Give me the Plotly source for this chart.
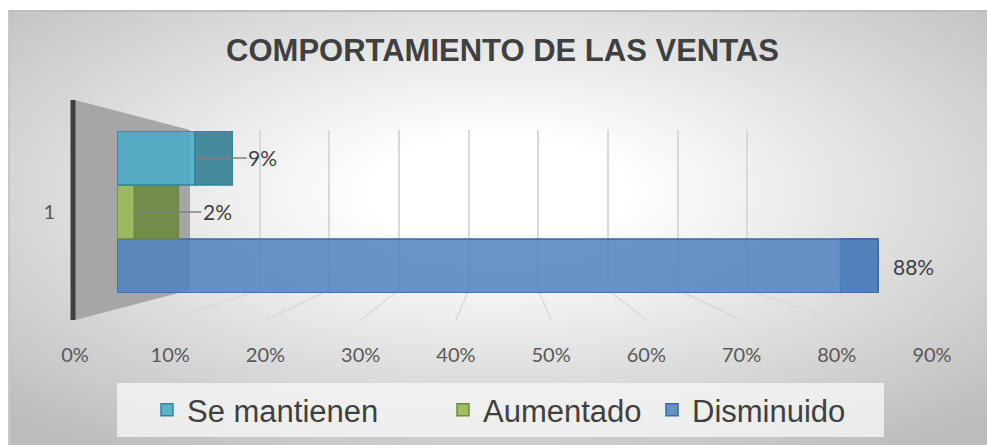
import base64
import plotly.graph_objects as go

# ---------------- data ----------------
categories = ["1"]
series_names = ["Disminuido", "Aumentado", "Se mantienen"]   # bottom -> top
series_values = [0.88, 0.02, 0.09]
value_labels = ["88%", "2%", "9%"]
tick_values = [0.0, 0.1, 0.2, 0.3, 0.4, 0.5, 0.6, 0.7, 0.8, 0.9]
tick_labels = ["0%", "10%", "20%", "30%", "40%", "50%", "60%", "70%", "80%", "90%"]
title_text = "COMPORTAMIENTO DE LAS VENTAS"

# ---------------- styles ----------------
face_colors = ["rgba(79,129,189,0.85)", "rgba(155,187,89,0.92)", "rgba(75,172,198,0.9)"]
side_colors = ["rgba(70,115,175,0.85)", "rgba(111,138,69,0.95)", "rgba(55,130,150,0.92)"]
edge_colors = ["#3a6aa5", "#71893f", "#31859c"]
label_offsets = [(35, False), (83, True), (68, True)]   # (px shift, leader line)
legend_ids = ["legend3", "legend2", "legend"]
legend_left_px = [652, 443, 147]

W, H = 987, 445
XMAX = 0.9


def fx(px):
    return px / W


def fy(py):
    return 1 - py / H


# pseudo-3D geometry (pixels)
FRONT_X = (75, 932)       # front plane 0% .. 90%
BACK_X = (190, 817)       # back wall 0% .. 90%
FRONT_Y = (100, 320)
BACK_Y = (130, 290)
BARF_X = (117, 895.5)     # bar front face 0% .. 90%
BARB_X = (163, 856)       # bar back face 0% .. 90%
BAR_Y = (131, 293)
LEGEND_BOX = (117, 383, 884, 437)


def px_of(rng, v):
    return rng[0] + (rng[1] - rng[0]) * v / XMAX


fig = go.Figure()

fig.add_trace(go.Scatter(x=[None], y=[None], xaxis="x", yaxis="y", showlegend=False,
                         hoverinfo="skip"))
fig.add_trace(go.Scatter(x=[None], y=[None], xaxis="x2", yaxis="y2", showlegend=False,
                         hoverinfo="skip"))

n = len(series_names)
annotations = []
for k, (name, v) in enumerate(zip(series_names, series_values)):
    off = -0.5 + k / n
    wid = 1.0 / n
    delta = (px_of(BARB_X, v) - px_of(BARF_X, v)) / (BARF_X[1] - BARF_X[0]) * XMAX
    fig.add_trace(go.Bar(
        y=categories, x=[delta], base=[v], orientation="h",
        xaxis="x3", yaxis="y3", offset=off, width=wid,
        marker=dict(color=side_colors[k], line=dict(color=edge_colors[k], width=1.5)),
        showlegend=False, hoverinfo="skip", legendgroup=name,
    ))
    fig.add_trace(go.Bar(
        y=categories, x=[v], orientation="h", name=name,
        xaxis="x3", yaxis="y3", offset=off, width=wid,
        marker=dict(color=face_colors[k], line=dict(color=edge_colors[k], width=1.5)),
        legendgroup=name, legend=legend_ids[k],
    ))
    shift, leader = label_offsets[k]
    yc = off + wid / 2
    if leader:
        annotations.append(dict(
            x=v, y=yc, xref="x3", yref="y3", text=value_labels[k],
            showarrow=True, arrowhead=0, arrowwidth=1.5, arrowcolor="#808080",
            ax=shift, ay=0, font=dict(family="Lato", size=21, color="#404040"),
        ))
    else:
        annotations.append(dict(
            x=v, y=yc, xref="x3", yref="y3", text=value_labels[k],
            showarrow=False, xshift=shift,
            font=dict(family="Lato", size=21, color="#404040"),
        ))

svg = (
    f'<svg xmlns="http://www.w3.org/2000/svg" width="979" height="435" viewBox="0 0 979 435" '
    f'preserveAspectRatio="none"><defs><radialGradient id="g" cx="0.5" cy="0.42" r="0.72">'
    f'<stop offset="0" stop-color="#ffffff"/><stop offset="0.18" stop-color="#ffffff"/>'
    f'<stop offset="1" stop-color="#bcbcbc"/></radialGradient></defs>'
    f'<rect x="0" y="0" width="979" height="435" fill="url(#g)"/>'
    f'<line x1="0" y1="1" x2="979" y2="1" stroke="#bdbdbd" stroke-width="2"/>'
    f'<line x1="1" y1="0" x2="1" y2="435" stroke="#c8c8c8" stroke-width="2"/></svg>'
)
src = "data:image/svg+xml;base64," + base64.b64encode(svg.encode()).decode()

shapes = []
path = (f"M {fx(FRONT_X[0])},{fy(FRONT_Y[0])} L {fx(BACK_X[0])},{fy(BACK_Y[0])} "
        f"L {fx(BACK_X[0])},{fy(BACK_Y[1])} L {fx(FRONT_X[0])},{fy(FRONT_Y[1])} Z")
shapes.append(dict(type="path", path=path, xref="paper", yref="paper",
                   fillcolor="#a6a6a6", line=dict(width=0), layer="below"))
for t in tick_values[1:]:
    shapes.append(dict(type="line", xref="paper", yref="paper",
                       x0=fx(px_of(BACK_X, t)), y0=fy(BACK_Y[1]),
                       x1=fx(px_of(FRONT_X, t)), y1=fy(FRONT_Y[1]),
                       line=dict(color="#d9d9d9", width=1.5), layer="below"))
shapes.append(dict(type="line", xref="paper", yref="paper",
                   x0=fx(FRONT_X[0] - 2), y0=fy(FRONT_Y[0]), x1=fx(FRONT_X[0] - 2), y1=fy(FRONT_Y[1]),
                   line=dict(color="#404040", width=5), layer="above"))
shapes.append(dict(type="rect", xref="paper", yref="paper",
                   x0=fx(LEGEND_BOX[0]), y0=fy(LEGEND_BOX[3]), x1=fx(LEGEND_BOX[2]), y1=fy(LEGEND_BOX[1]),
                   fillcolor="rgba(248,248,248,0.75)", line=dict(width=0), layer="below"))

legend_common = dict(orientation="h", y=fy(410), xanchor="left", yanchor="middle",
                     bgcolor="rgba(0,0,0,0)", itemclick=False,
                     font=dict(family="Liberation Sans", size=31, color="#404040"))

fig.update_layout(
    width=W, height=H, autosize=False,
    margin=dict(l=0, r=0, t=0, b=0, pad=0, autoexpand=False),
    paper_bgcolor="white", plot_bgcolor="rgba(0,0,0,0)",
    barmode="overlay",
    images=[dict(source=src, xref="paper", yref="paper", x=fx(8), y=fy(10),
                 sizex=(W - 8) / W, sizey=(H - 10) / H, sizing="stretch",
                 xanchor="left", yanchor="top", layer="below")],
    title=dict(text=title_text, x=fx(502.5), y=fy(50), xanchor="center", yanchor="middle",
               xref="paper", yref="paper", automargin=False,
               font=dict(family="Liberation Sans", size=31, color="#404040", weight="bold")),
    xaxis=dict(domain=[fx(BACK_X[0]), fx(BACK_X[1])], range=[0, XMAX], anchor="y",
               tickvals=tick_values[1:], showgrid=True, gridcolor="#d9d9d9", gridwidth=1.5,
               showticklabels=False, zeroline=False, showline=False, ticks="", automargin=False),
    yaxis=dict(domain=[fy(BACK_Y[1]), fy(BACK_Y[0])], range=[0, 1], visible=False, anchor="x",
               automargin=False),
    xaxis2=dict(domain=[fx(FRONT_X[0]), fx(FRONT_X[1])], range=[0, XMAX], anchor="y2",
                tickvals=tick_values, ticktext=tick_labels, showgrid=False, zeroline=False,
                showline=False, ticks="", automargin=False,
                tickfont=dict(family="Lato", size=20, color="#595959")),
    yaxis2=dict(domain=[fy(341), fy(339)], range=[0, 1], visible=False, anchor="x2",
                automargin=False),
    xaxis3=dict(domain=[fx(BARF_X[0]), fx(BARF_X[1])], range=[0, XMAX], anchor="y3",
                visible=False, showgrid=False, zeroline=False, automargin=False),
    yaxis3=dict(domain=[fy(BAR_Y[1]), fy(BAR_Y[0])], type="category", range=[-0.5, 0.5],
                anchor="free", position=fx(FRONT_X[0] - 2), showgrid=False, zeroline=False,
                showline=False, ticks="", ticklabelstandoff=18, automargin=False,
                tickfont=dict(family="Lato", size=20, color="#595959")),
    legend=dict(x=fx(legend_left_px[2]), **legend_common),
    legend2=dict(x=fx(legend_left_px[1]), **legend_common),
    legend3=dict(x=fx(legend_left_px[0]), **legend_common),
    annotations=annotations,
    shapes=shapes,
)

fig.write_html("out.html", config={"displayModeBar": False},
               post_script="document.body.style.margin='0';document.body.style.overflow='hidden';")
